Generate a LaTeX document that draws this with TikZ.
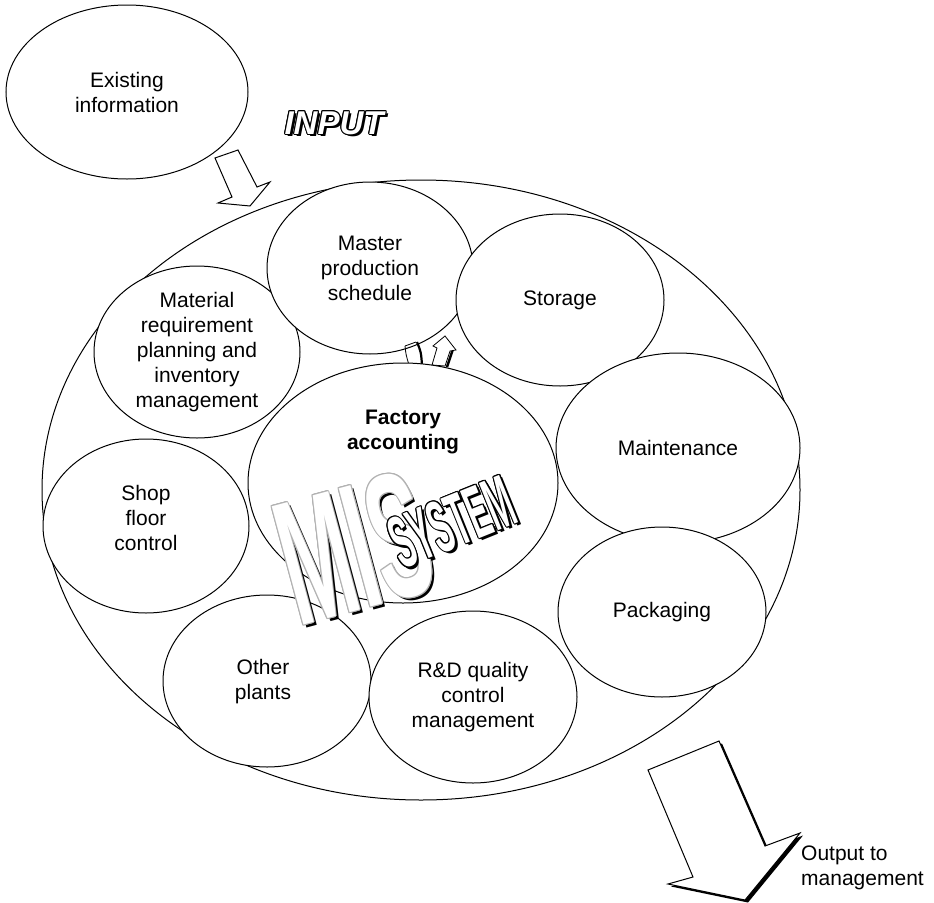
\documentclass[tikz,border=0pt]{standalone}
\usepackage{fontspec}
\setmainfont{Liberation Sans}
\usetikzlibrary{shapes.geometric}
\tikzset{
  bub/.style={ellipse, draw, fill=white, line width=1pt, inner sep=0pt},
  lbl/.style={align=center, inner sep=0pt, font=\fontsize{21}{25}\selectfont},
  blockarrow/.style={draw, fill=white, line width=1pt, line join=miter},
}
% #1 position, #2 node options, #3 text, #4 outline colour, #5 shadow shift
\newcommand\fancytext[5]{%
  \begin{scope}[shift={#1}]
    \node[shift={#5}, #2, text=black, inner sep=0pt] at (0,0) {#3};
    \foreach \ang in {0,30,...,330}{\node[shift={(\ang:1pt)}, #2, text=#4, inner sep=0pt] at (0,0) {#3};}
    \node[#2, text=white, inner sep=0pt] at (0,0) {#3};
  \end{scope}}
\begin{document}
\begin{tikzpicture}[x=1pt,y=-1pt]
\useasboundingbox (0,0) rectangle (934,902);

% existing information
\node[bub, minimum width=242pt, minimum height=174pt] (exist) at (127,92) {};
\node[lbl] (existt) at (exist) {Existing\\information};

% INPUT
\fancytext{(334,123)}{font=\fontsize{33}{33}\selectfont\bfseries\itshape}{INPUT}{black}{(2.5pt,-2.5pt)}

% input arrow
\draw[blockarrow] (215,158) -- (238,150) -- (257,187) -- (270,182) -- (250,206) -- (218,203) -- (232,197) -- cycle;

% big system ellipse
\node[bub, minimum width=758pt, minimum height=620pt] (sys) at (421,490) {};

% component circles
\node[bub, minimum width=206pt, minimum height=172pt] (mat) at (197,352) {};
\node[lbl] (matt) at (mat) {Material\\requirement\\planning and\\inventory\\management};
\node[bub, minimum width=206pt, minimum height=172pt] (mps) at (370,268) {};
\node[lbl] (mpst) at (mps) {Master\\production\\schedule};
\node[bub, minimum width=208pt, minimum height=172pt] (sto) at (560,300) {};
\node[lbl] (stot) at (sto) {Storage};
\node[bub, minimum width=244pt, minimum height=190pt] (mnt) at (678,448) {};
\node[lbl] (mntt) at (mnt) {Maintenance};
\node[bub, minimum width=208pt, minimum height=170pt] (pkg) at (662,612) {};
\node[lbl] (pkgt) at (pkg) {Packaging};
\node[bub, minimum width=206pt, minimum height=174pt] (shop) at (146,526) {};
\node[lbl] (shopt) at (146,518) {Shop\\floor\\control};
\node[bub, minimum width=208pt, minimum height=172pt] (oth) at (267,681) {};
\node[lbl] (otht) at (263,682) {Other\\plants};
\node[bub, minimum width=208pt, minimum height=172pt] (rd) at (473,697) {};
\node[lbl] (rdt) at (rd) {R\&D quality\\control\\management};

% small arrows between master schedule and factory accounting
\draw[line width=0.8pt] (405,346) .. controls (406,355) .. (409,365);
\draw[line width=0.8pt] (405,346) -- (416,342);
\draw[line width=2.2pt] (417,342) .. controls (421,352) .. (422,365);
\draw[line width=2.5pt] (453,349) -- (447,367);
\draw[blockarrow, line width=0.8pt] (432,365) -- (437,348) -- (433,346) -- (445,336) -- (456,350) -- (450,351) -- (445,366) -- cycle;

% factory accounting
\node[bub, minimum width=310pt, minimum height=240pt] (fa) at (403,483) {};
\node[lbl, font=\fontsize{21}{25}\selectfont\bfseries] (fat) at (403,432) {Factory\\accounting};

% MIS SYSTEM logo
\fancytext{(354,548)}{rotate=15, xscale=0.47, font=\fontsize{178}{178}\selectfont\bfseries}{MIS}{gray!60}{(3pt,-3pt)}
\fancytext{(452,522)}{rotate=22, xscale=0.42, font=\fontsize{74}{74}\selectfont\bfseries}{SYSTEM}{black}{(2.5pt,-2.5pt)}

% output arrow
\fill[black, shift={(3pt,-2.5pt)}] (648,770) -- (719,741) -- (765,846) -- (800,833) -- (745,900) -- (668,884) -- (693,877) -- cycle;
\draw[blockarrow] (648,770) -- (719,741) -- (765,846) -- (800,833) -- (745,900) -- (668,884) -- (693,877) -- cycle;
\node[lbl, anchor=west, align=left] (out) at (801,868) {Output to\\management};
\end{tikzpicture}
\end{document}
